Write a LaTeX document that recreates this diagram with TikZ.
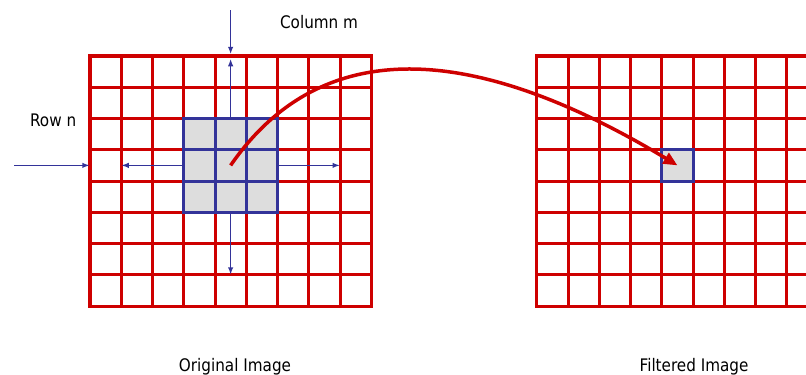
\documentclass[tikz,border=0pt]{standalone}
\usepackage{fontspec}
\setmainfont{DejaVu Sans}[FakeStretch=0.88]
\usetikzlibrary{arrows.meta, positioning}
\definecolor{gridred}{RGB}{206,0,0}
\definecolor{kernelblue}{RGB}{51,51,153}
\definecolor{cellgray}{RGB}{221,221,221}

\begin{document}
\begin{tikzpicture}[x=31.25bp, y=-31.25bp, font=\fontsize{17.3bp}{20bp}\selectfont,
        gridline/.style={draw=gridred, line width=3bp, line cap=rect},
        kern/.style={draw=kernelblue, line width=3bp, line cap=rect},
        pixel/.style={kern, fill=cellgray, inner sep=0pt, minimum size=31.25bp},
        image/.style={inner sep=0pt, minimum width=281.25bp, minimum height=250bp},
        thinarrow/.style={draw=kernelblue, line width=1.5bp, -{Latex[length=7.5bp, width=5.5bp]}},
        bigarrow/.style={draw=gridred, line width=3.5bp, -{Triangle[length=14bp, width=12bp]}}
    ]
        \useasboundingbox (-2.88,-1.792) rectangle (22.912,10.208);
        \clip (-2.88,-1.792) rectangle (22.912,10.208);

        % the two pixel grids
        \node[image] (orig) at (4.5,4)  {};
        \node[image] (filt) at (18.8,4) {};
        \foreach \xo in {0, 14.3} {
            \foreach \i in {0,...,9}
                \draw[gridline] (\xo+\i,0) -- (\xo+\i,8);
            \foreach \j in {0,...,8}
                \draw[gridline] (\xo,\j) -- (\xo+9,\j);
        }

        % 3x3 neighbourhood and the output pixel
        \node[pixel, minimum size=93.75bp] (kernel) at (4.5,3.5) {};
        \foreach \k in {4,5} {
            \draw[kern] (\k,2) -- (\k,5);
            \draw[kern] (3,\k-1) -- (6,\k-1);
        }
        \node[pixel] (target) at (18.8,3.5) {};

        % row / column markers
        \coordinate (colin)    at (4.5,-1.47);
        \coordinate (rowin)    at (-2.43,3.5);
        \coordinate (downtip)  at (4.5,7);
        \coordinate (lefttip)  at (1,3.5);
        \coordinate (righttip) at (8,3.5);
        \draw[thinarrow, shorten >=1.5bp] (colin) -- (orig.north);
        \draw[thinarrow, shorten >=3bp] (kernel.north) -- (orig.north);
        \draw[thinarrow] (kernel.south) -- (downtip);
        \draw[thinarrow] (rowin) -- (rowin -| orig.west);
        \draw[thinarrow] (kernel.west) -- (lefttip);
        \draw[thinarrow] (kernel.east) -- (righttip);

        \draw[bigarrow] (kernel.center) .. controls (7.3,-0.55) and (12,-0.6) .. (target.center);

        \node[anchor=base] (colm)    at (7.33,-0.886) {Column m};
        \node[anchor=base] (rown)    at (-1.18,2.24)  {Row n};
        \node[anchor=base] (origcap) at (4.64,10.08)  {Original Image};
        \node[anchor=base] (filtcap) at (19.33,10.08) {Filtered Image};
    \end{tikzpicture}
\end{document}
